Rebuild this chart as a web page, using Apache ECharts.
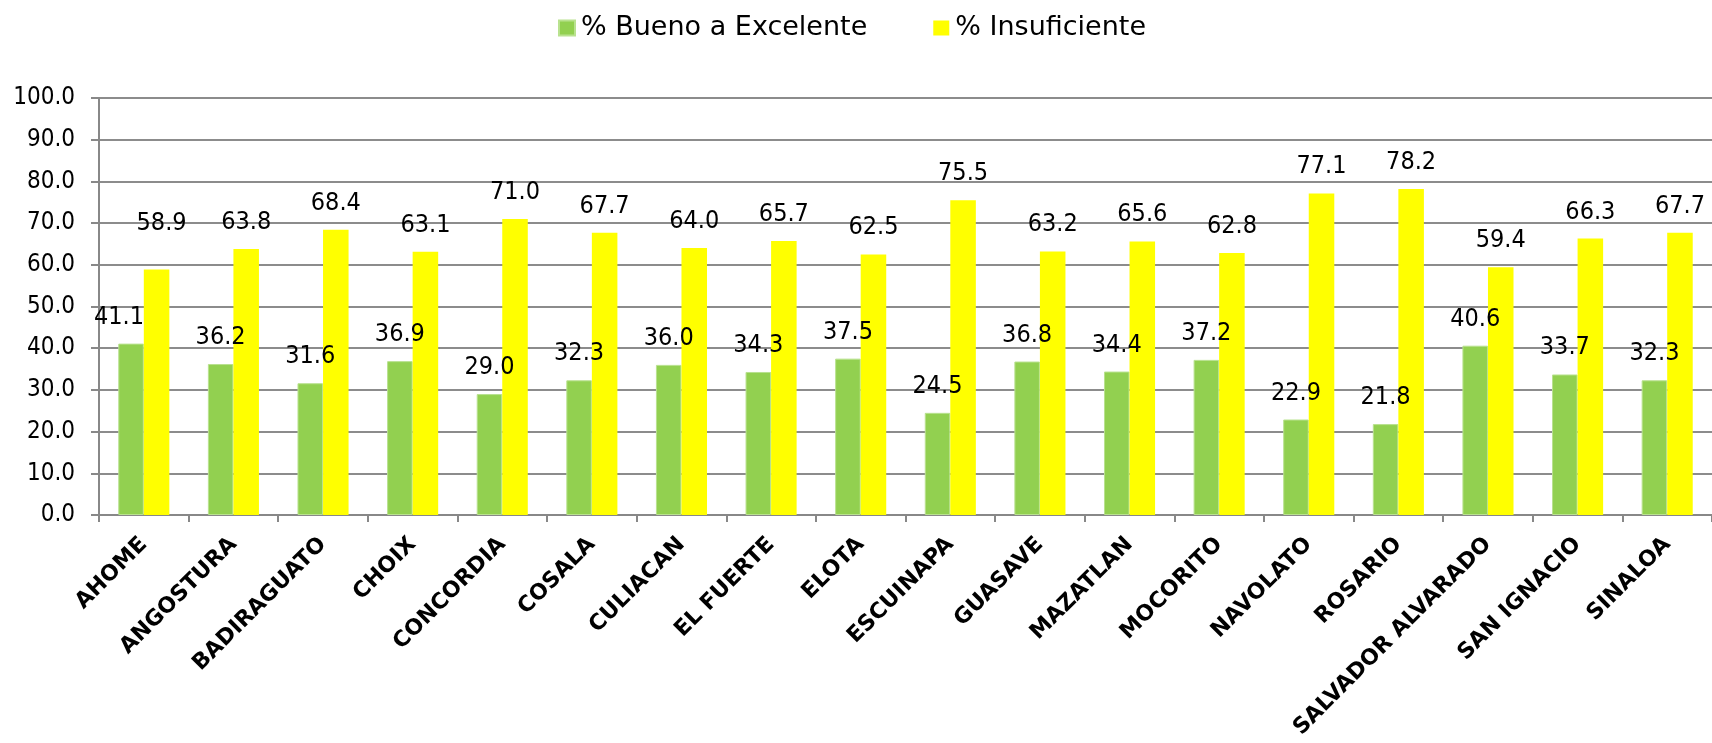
<!DOCTYPE html>
<html>
<head>
<meta charset="utf-8">
<script src="https://cdn.jsdelivr.net/npm/echarts@6/dist/echarts.min.js"></script>
<style>
html,body{margin:0;padding:0;background:#fff;}
#chart{width:1712px;height:743px;}
</style>
</head>
<body>
<div id="chart"></div>
<script>
const categories = ['AHOME','ANGOSTURA','BADIRAGUATO','CHOIX','CONCORDIA','COSALA','CULIACAN','EL FUERTE','ELOTA','ESCUINAPA','GUASAVE','MAZATLAN','MOCORITO','NAVOLATO','ROSARIO','SALVADOR ALVARADO','SAN IGNACIO','SINALOA'];
const buenoExcelente = [41.1,36.2,31.6,36.9,29.0,32.3,36.0,34.3,37.5,24.5,36.8,34.4,37.2,22.9,21.8,40.6,33.7,32.3];
const insuficiente = [58.9,63.8,68.4,63.1,71.0,67.7,64.0,65.7,62.5,75.5,63.2,65.6,62.8,77.1,78.2,59.4,66.3,67.7];
const seriesNames = ['% Bueno a Excelente','% Insuficiente'];
const yTicks = {min:0, max:100, interval:10};

const numFont = '"DejaVu Sans Condensed","DejaVu Sans",sans-serif';
const chart = echarts.init(document.getElementById('chart'));

function labelData(arr, specialIdx, offset){
  return arr.map((v,i)=> i===specialIdx ? {value:v, label:{offset:offset}} : v);
}

chart.setOption({
  animation:false,
  legend:{
    top:8, left:553,
    itemWidth:16, itemHeight:15, itemGap:66,
    icon:'rect',
    textStyle:{fontFamily:'"DejaVu Sans",sans-serif', fontSize:27, color:'#000', lineHeight:30, padding:[0,0,0,1]},
    data:seriesNames
  },
  grid:{left:99, top:98, width:1618, bottom:228, containLabel:false},
  xAxis:{
    type:'category',
    data:categories,
    axisLine:{lineStyle:{color:'#888', width:2}},
    axisTick:{show:true, length:7, lineStyle:{color:'#888', width:2}, alignWithLabel:false},
    axisLabel:{interval:0, rotate:45, margin:26, fontFamily:'"DejaVu Sans",sans-serif', fontWeight:'bold', fontSize:22, color:'#000'}
  },
  yAxis:{
    type:'value', min:yTicks.min, max:yTicks.max, interval:yTicks.interval,
    axisLine:{show:true, lineStyle:{color:'#888', width:2}},
    axisTick:{show:true, length:8, lineStyle:{color:'#888', width:2}},
    splitLine:{lineStyle:{color:'#8c8c8c', width:2}},
    axisLabel:{margin:24, fontFamily:numFont, fontSize:24, color:'#000', formatter:v=>v.toFixed(1)}
  },
  series:[
    {
      name:seriesNames[0], type:'bar', barGap:'0%', barCategoryGap:'43%',
      itemStyle:{color:'#92D050', borderColor:'#b9e28f', borderWidth:1},
      label:{show:true, position:'top', distance:14, fontFamily:numFont, fontSize:25, color:'#000', formatter:p=>p.value.toFixed(1)},
      data:labelData(buenoExcelente, 0, [-12,0])
    },
    {
      name:seriesNames[1], type:'bar', barGap:'0%', barCategoryGap:'43%',
      itemStyle:{color:'#FFFF00'},
      label:{show:true, position:'top', distance:14, fontFamily:numFont, fontSize:25, color:'#000', formatter:p=>p.value.toFixed(1)},
      data:labelData(insuficiente, 0, [5,-19])
    }
  ]
});
</script>
</body>
</html>
